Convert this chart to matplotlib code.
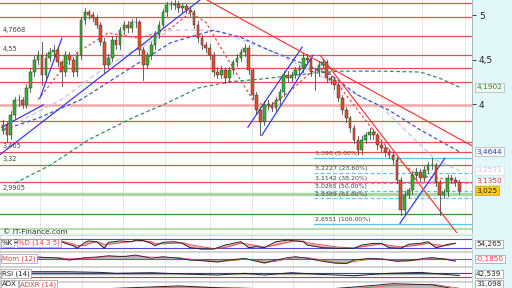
import numpy as np
import matplotlib.pyplot as plt
from matplotlib.patches import Rectangle
from matplotlib.transforms import blended_transform_factory

# ---- price data (one candle per session) ----
opens = [3.70, 3.76, 3.65, 3.88, 4.04, 4.04, 3.99, 4.18, 4.36, 4.49,
         4.55, 4.33, 4.52, 4.58, 4.61, 4.47, 4.36, 4.55, 4.49, 4.36,
         4.55, 4.94, 5.03, 5.00, 4.97, 4.89, 4.70, 4.44, 4.52, 4.72,
         4.66, 4.83, 4.89, 4.85, 4.92, 4.92, 4.61, 4.44, 4.55, 4.66,
         4.78, 4.89, 5.03, 5.11, 5.11, 5.13, 5.08, 5.10, 5.06, 5.03,
         4.89, 4.74, 4.66, 4.63, 4.55, 4.36, 4.33, 4.38, 4.29, 4.38,
         4.47, 4.52, 4.58, 4.63, 4.38, 4.10, 3.93, 3.80, 3.99, 3.99,
         3.96, 4.04, 4.13, 4.33, 4.29, 4.33, 4.38, 4.40, 4.52, 4.49,
         4.36, 4.36, 4.44, 4.47, 4.29, 4.27, 4.21, 4.07, 3.93, 3.84,
         3.73, 3.60, 3.48, 3.60, 3.65, 3.69, 3.65, 3.54, 3.51, 3.46,
         3.43, 3.37, 3.15, 2.81, 2.98, 3.03, 3.20, 3.24, 3.17, 3.26,
         3.31, 3.31, 3.12, 2.98, 3.01, 3.17, 3.15, 3.12]
closes = [3.76, 3.65, 3.88, 4.04, 4.04, 3.99, 4.18, 4.36, 4.49, 4.55,
          4.33, 4.52, 4.58, 4.61, 4.47, 4.36, 4.55, 4.49, 4.36, 4.55,
          4.94, 5.03, 5.00, 4.97, 4.89, 4.70, 4.44, 4.52, 4.72, 4.66,
          4.83, 4.89, 4.85, 4.92, 4.92, 4.61, 4.44, 4.55, 4.66, 4.78,
          4.89, 5.03, 5.11, 5.11, 5.13, 5.08, 5.10, 5.06, 5.03, 4.89,
          4.74, 4.66, 4.63, 4.55, 4.36, 4.33, 4.38, 4.29, 4.38, 4.47,
          4.52, 4.58, 4.63, 4.38, 4.10, 3.93, 3.80, 3.99, 3.99, 3.96,
          4.04, 4.13, 4.33, 4.29, 4.33, 4.38, 4.40, 4.52, 4.49, 4.36,
          4.36, 4.44, 4.47, 4.29, 4.27, 4.21, 4.07, 3.93, 3.84, 3.73,
          3.60, 3.48, 3.60, 3.65, 3.69, 3.65, 3.54, 3.51, 3.46, 3.43,
          3.37, 3.15, 2.81, 2.98, 3.03, 3.20, 3.24, 3.17, 3.26, 3.31,
          3.31, 3.12, 2.98, 3.01, 3.17, 3.15, 3.12, 3.025]
highs = [3.82, 3.80, 3.92, 4.08, 4.10, 4.08, 4.22, 4.40, 4.54, 4.60,
         4.70, 4.57, 4.63, 4.66, 4.65, 4.50, 4.60, 4.58, 4.53, 4.58,
         4.98, 5.08, 5.06, 5.04, 5.00, 4.92, 4.74, 4.56, 4.76, 4.76,
         4.87, 4.93, 4.93, 4.96, 4.97, 4.95, 4.64, 4.58, 4.70, 4.82,
         4.93, 5.07, 5.15, 5.16, 5.17, 5.16, 5.14, 5.13, 5.10, 5.06,
         4.93, 4.78, 4.70, 4.67, 4.58, 4.42, 4.43, 4.41, 4.42, 4.50,
         4.56, 4.62, 4.68, 4.66, 4.41, 4.14, 3.97, 4.03, 4.04, 4.02,
         4.08, 4.17, 4.37, 4.37, 4.36, 4.42, 4.44, 4.57, 4.56, 4.52,
         4.40, 4.48, 4.51, 4.50, 4.32, 4.30, 4.24, 4.10, 3.97, 3.87,
         3.77, 3.64, 3.64, 3.69, 3.73, 3.72, 3.68, 3.58, 3.54, 3.50,
         3.46, 3.40, 3.18, 3.02, 3.06, 3.24, 3.28, 3.27, 3.30, 3.35,
         3.39, 3.34, 3.15, 3.05, 3.20, 3.20, 3.18, 3.15]
lows = [3.66, 3.57, 3.61, 3.84, 3.98, 3.95, 3.95, 4.14, 4.32, 4.45,
        4.21, 4.29, 4.48, 4.54, 4.43, 4.20, 4.32, 4.45, 4.32, 4.32,
        4.51, 4.90, 4.96, 4.93, 4.85, 4.66, 4.35, 4.40, 4.48, 4.62,
        4.62, 4.79, 4.81, 4.81, 4.87, 4.55, 4.27, 4.40, 4.51, 4.62,
        4.74, 4.85, 4.99, 5.07, 5.07, 5.04, 5.04, 5.02, 4.99, 4.85,
        4.70, 4.62, 4.59, 4.51, 4.32, 4.29, 4.29, 4.24, 4.25, 4.34,
        4.43, 4.48, 4.54, 4.34, 4.06, 3.89, 3.65, 3.76, 3.94, 3.92,
        3.92, 4.00, 4.09, 4.25, 4.25, 4.29, 4.34, 4.36, 4.45, 4.32,
        4.16, 4.32, 4.40, 4.25, 4.23, 4.17, 4.03, 3.89, 3.80, 3.69,
        3.56, 3.44, 3.44, 3.56, 3.61, 3.61, 3.50, 3.47, 3.42, 3.39,
        3.33, 3.11, 2.75, 2.77, 2.94, 2.99, 3.16, 3.13, 3.13, 3.22,
        3.27, 3.08, 2.75, 2.94, 2.97, 3.11, 3.08, 2.99]

# ---- moving averages (session index, price) ----
green_ma_idx = [3, 12, 22, 33, 42, 50, 58, 66, 76, 86, 97, 107, 112, 117]
green_ma = [3.11, 3.31, 3.60, 3.84, 4.01, 4.18, 4.25, 4.28, 4.33, 4.37, 4.37, 4.36, 4.29, 4.19]
blue_ma_idx = [0, 9, 20, 30, 43, 54, 61, 68, 76, 84, 91, 99, 107, 117]
blue_ma = [3.71, 3.84, 4.05, 4.33, 4.69, 4.83, 4.75, 4.61, 4.47, 4.33, 4.10, 3.93, 3.71, 3.464]
lav_ma_idx = [4, 15, 27, 43, 51, 56, 68, 77, 86, 97, 111, 117]
lav_ma = [3.80, 4.05, 4.44, 4.83, 4.83, 4.81, 4.61, 4.42, 4.21, 3.97, 3.37, 3.253]
red_ma_idx = [9, 18, 27, 35, 43, 48, 52, 57, 64, 68, 74, 79, 83, 88, 94, 100, 106, 111, 117]
red_ma = [4.05, 4.55, 4.80, 4.74, 4.85, 5.03, 4.92, 4.55, 4.05, 3.96, 4.16, 4.36, 4.40, 4.10, 3.76, 3.43, 3.20, 3.17, 3.135]

# ---- drawn trendlines ((idx, price), (idx, price)) ----
blue_trends = [((-0.8, 3.43), (50.5, 5.17)), ((9.5, 4.07), (15.1, 4.74)),
               ((-0.3, 3.74), (10.3, 3.99)), ((62.8, 3.74), (76.7, 4.64)),
               ((66.4, 3.65), (79.5, 4.55)), ((101.8, 2.66), (113.3, 3.39))]
red_trends = [((52.3, 5.17), (120.3, 3.53)), ((81.3, 4.55), (116.4, 2.55))]

# ---- horizontal levels ----
red_levels = [5.135, 4.978, 4.7668, 4.55, 4.40, 4.247, 3.81, 3.573, 3.465, 3.32, 3.124]
pink_level = 3.99
green_levels = [2.9905, 2.764, 2.595]
left_labels = ['4,7668', '4,55', '3,465', '3,32', '2,9905']
left_label_levels = [4.7668, 4.55, 3.465, 3.32, 2.9905]
fib_levels = [3.398, 3.2227, 3.1142, 3.0265, 2.9389, 2.6551]
fib_pct = ['0,00%', '23,60%', '38,20%', '50,00%', '61,80%', '100,00%']
fib_start = 79.7
grid_idx = [9.5, 20.3, 30.8, 41.5, 53.1, 63.8, 74.4, 84.6, 97.2, 107.4, 118.5]

# ---- indicators ----
stoch_idx = [0, 4, 9, 15, 16, 18, 19, 21, 22, 24, 26, 27, 30, 33, 34, 36, 38, 39, 41, 44,
             46, 48, 51, 54, 57, 59, 61, 63, 65, 67, 70, 73, 75, 77, 78, 82, 86, 90, 92, 95,
             97, 99, 102, 104, 107, 109, 111, 113, 114, 116]
stoch_k = [50, 60, 70, 62, 51, 35, 18, 58, 67, 62, 18, 58, 67, 62, 73, 69, 51, 35, 58, 62,
           51, 22, 13, 13, 40, 51, 62, 22, 29, 22, 62, 73, 67, 62, 40, 22, 18, 18, 40, 51,
           51, 22, 18, 45, 51, 62, 22, 35, 45, 50]
stoch_d = [50, 56, 64, 66, 60, 48, 35, 37, 50, 62, 45, 45, 55, 64, 68, 68, 62, 50, 48, 52,
           56, 42, 28, 16, 24, 38, 52, 45, 36, 26, 40, 58, 68, 66, 55, 40, 26, 20, 28, 40,
           48, 38, 28, 32, 42, 52, 42, 38, 36, 54]
mom_idx = [0, 4, 9, 14, 17, 21, 24, 27, 31, 34, 38, 41, 45, 48, 51, 55, 58, 62, 65, 67,
           70, 73, 75, 78, 82, 85, 88, 90, 94, 97, 101, 104, 108, 110, 113, 116]
mom = [0.10, 0.15, 0.17, 0.08, -0.09, 0.12, 0.17, 0.28, 0.20, 0.34, 0.06, 0.20, 0.06, -0.09,
       -0.15, -0.26, -0.09, 0.06, -0.20, -0.35, -0.09, 0.12, 0.20, 0.06, -0.20, -0.35, -0.40,
       -0.09, 0.06, 0.00, -0.20, -0.15, 0.06, 0.12, 0.00, -0.185]
mom_sig = [0.08, 0.12, 0.15, 0.12, 0.02, 0.04, 0.12, 0.22, 0.24, 0.28, 0.16, 0.14, 0.12, -0.02,
           -0.10, -0.20, -0.16, -0.02, -0.10, -0.28, -0.20, 0.02, 0.14, 0.12, -0.08, -0.28, -0.36,
           -0.22, -0.02, 0.02, -0.12, -0.16, -0.04, 0.08, 0.04, -0.10]
rsi_idx = [0, 8, 16, 25, 29, 38, 46, 55, 62, 67, 74, 81, 90, 99, 107, 113, 117]
rsi = [72, 80, 80, 73, 64, 70, 57, 47, 64, 47, 70, 54, 40, 64, 73, 54, 42.5]
adx_idx = [0, 15, 30, 45, 60, 75, 90, 100, 110, 117]
adx = [28, 30, 34, 38, 33, 28, 36, 42, 40, 31.1]
adxr = [29, 29, 32, 36, 35, 30, 33, 39, 41, 34]

W, H = 512, 288
XMIN, XMAX = -0.77, 120.26
fig = plt.figure(figsize=(W / 100, H / 100), dpi=100)
fig.patch.set_facecolor('#e2f7f7')


def px_axes(x0, y0, x1, y1):
    a = fig.add_axes([x0 / W, 1 - y1 / H, (x1 - x0) / W, (y1 - y0) / H])
    a.set_facecolor('white')
    a.set_xlim(XMIN, XMAX)
    a.set_xticks([])
    a.set_yticks([])
    for s in a.spines.values():
        s.set_color('#c4c4c4')
        s.set_linewidth(0.5)
    return a


def grid(a):
    for g in grid_idx:
        a.axvline(g, color='#e2e2e2', lw=0.6, zorder=0)


def panel_label(a, xpx, ypx, txt, col):
    # label box placed in figure pixels
    fig.text(xpx / W, 1 - ypx / H, txt, fontsize=5.0, color=col, va='center', ha='left',
             zorder=10, bbox=dict(boxstyle='square,pad=0.15', fc='white', ec='#9a9a9a', lw=0.5))


# ---------------- main price panel ----------------
ax = px_axes(0, 0, 472, 233)
ax.set_ylim(2.55, 5.17)
grid(ax)

for lv in red_levels:
    ax.axhline(lv, color='#e85050', lw=0.9, zorder=1)
ax.axhline(pink_level, color='#f2a8a8', lw=1.8, zorder=1)
ax.axhline(green_levels[0], color='#a6d8a0', lw=2.4, zorder=1)
ax.axhline(green_levels[1], color='#2e9a2e', lw=0.9, zorder=1)
ax.axhline(green_levels[2], color='#a6d8a0', lw=1.2, zorder=1)

for k, (lv, pc) in enumerate(zip(fib_levels, fib_pct)):
    ls = '-' if k in (0, len(fib_levels) - 1) else (0, (3, 2))
    ax.plot([fib_start, XMAX], [lv, lv], color='#58c4ee', lw=0.9, ls=ls, zorder=1)
    ax.text(fib_start + 0.3, lv + 0.02, f"{lv:.4f}".rstrip('0').replace('.', ',') + f" ({pc})",
            fontsize=4.5, color='#444444', va='bottom', ha='left', zorder=6)

for lab, lv in zip(left_labels, left_label_levels):
    ax.text(0.0, lv + 0.03, lab, fontsize=4.8, color='#444444', va='bottom', ha='left', zorder=6)

ax.plot(green_ma_idx, green_ma, color='#3c8c5c', lw=0.9, dashes=(3, 2), zorder=2)
ax.plot(lav_ma_idx, lav_ma, color='#c6ccf2', lw=1.1, dashes=(3, 2), zorder=2)
ax.plot(blue_ma_idx, blue_ma, color='#3a5ac8', lw=0.9, dashes=(3, 2), zorder=2)
ax.plot(red_ma_idx, red_ma, color='#ee4848', lw=0.9, dashes=(2, 2), zorder=2)

for (x0, y0), (x1, y1) in blue_trends:
    ax.plot([x0, x1], [y0, y1], color='#3a3af0', lw=0.9, zorder=3)
for (x0, y0), (x1, y1) in red_trends:
    ax.plot([x0, x1], [y0, y1], color='#f04040', lw=0.9, zorder=3)

for i, (o, h, l, c) in enumerate(zip(opens, highs, lows, closes)):
    ax.plot([i, i], [l, h], color='#4a4a4a', lw=0.6, zorder=4)
    col = '#2fb82f' if c >= o else '#e4502c'
    ax.add_patch(Rectangle((i - 0.34, min(o, c)), 0.68, max(abs(c - o), 0.006),
                           facecolor=col, edgecolor='#333333', lw=0.35, zorder=5))

ax.set_yticks([4, 4.5, 5])
ax.set_yticklabels(['4', '4,5', '5'])
ax.tick_params(axis='y', left=False, right=True, labelleft=False, labelright=True,
               length=3, width=0.6, pad=2, labelsize=6.5, colors='#222222')
for s in ('top', 'left', 'bottom'):
    ax.spines[s].set_visible(False)
ax.spines['right'].set_color('#9a9a9a')

tr = blended_transform_factory(ax.transAxes, ax.transData)
right_boxes = [('4,1902', green_ma[-1], '#2a8a3a', '#f2fbf2', '#b0b0b0'),
               ('3,4644', blue_ma[-1], '#2a46b0', '#f6f8ff', '#b0b0b0'),
               ('3,2531', lav_ma[-1], '#c4c8ec', 'white', '#dddddd'),
               ('3,1350', red_ma[-1], '#e03a3a', 'white', '#dddddd'),
               ('3,025', closes[-1], '#222222', '#ffd000', '#c8a000')]
for txt, lv, tc, fc, ec in right_boxes:
    ax.text(1.01, lv, txt, transform=tr, fontsize=5.4, color=tc, va='center', ha='left',
            clip_on=False, zorder=7,
            bbox=dict(boxstyle='square,pad=0.18', fc=fc, ec=ec, lw=0.5))

fig.text(3 / W, 1 - 231.5 / H, '\u00a9 IT-Finance.com', fontsize=5.3, color='#333333',
         va='center', ha='left')

# ---------------- stochastic ----------------
ax1 = px_axes(0, 235, 472, 251)
ax1.set_ylim(0, 107)
grid(ax1)
ax1.axhline(80, color='#4a4ad8', lw=0.8)
ax1.axhline(20, color='#4a4ad8', lw=0.8)
ax1.fill_between(stoch_idx, stoch_k, stoch_d, color='#f4b0b0', lw=0)
ax1.plot(stoch_idx, stoch_d, color='#ee5050', lw=0.7)
ax1.plot(stoch_idx, stoch_k, color='#222222', lw=0.7)
panel_label(ax1, 2, 243, '%K', '#222222')
panel_label(ax1, 18, 243, '%D (14 3 5)', '#e04040')

# ---------------- momentum ----------------
ax2 = px_axes(0, 252, 472, 266)
ax2.set_ylim(-0.6, 0.6)
grid(ax2)
ax2.axhline(0, color='#5a5ad8', lw=0.8)
ax2.fill_between(mom_idx, mom, 0, color='#b8b8b8', lw=0)
ax2.plot(mom_idx, mom_sig, color='#ee5050', lw=0.6)
ax2.plot(mom_idx, mom, color='#222222', lw=0.6)
panel_label(ax2, 2, 258.5, 'Mom (12)', '#e04040')

# ---------------- RSI ----------------
ax3 = px_axes(0, 267, 472, 281)
ax3.set_ylim(-13, 127)
grid(ax3)
ax3.fill_between(rsi_idx, rsi, 50, color='#b0b0b0', lw=0)
ax3.axhline(70, color='#3a3ad8', lw=0.8)
ax3.axhline(30, color='#e03030', lw=0.8)
ax3.plot(rsi_idx, rsi, color='#222222', lw=0.7)
panel_label(ax3, 2, 273.5, 'RSI (14)', '#222222')

# ---------------- ADX ----------------
ax4 = px_axes(0, 282, 472, 296)
ax4.set_ylim(20, 45)
grid(ax4)
ax4.fill_between(adx_idx, adx, 20, color='#b8b8b8', lw=0)
ax4.plot(adx_idx, adxr, color='#ee5050', lw=0.6)
ax4.plot(adx_idx, adx, color='#222222', lw=0.7)
panel_label(ax4, 2, 284.3, 'ADX', '#222222')
panel_label(ax4, 20, 284.3, 'ADXR (14)', '#e04040')

# indicator last values on the right
ind_labels = [('54,265', 244, '#222222'), ('-0,1850', 259, '#e04040'),
              ('42,539', 274, '#222222'), ('31,098', 284.3, '#222222')]
for txt, ypx, col in ind_labels:
    fig.text(476 / W, 1 - ypx / H, txt, fontsize=5.2, color=col, va='center', ha='left',
             bbox=dict(boxstyle='square,pad=0.18', fc='white', ec='#9a9a9a', lw=0.5))

fig.savefig('out.png', dpi=100, facecolor=fig.get_facecolor())
